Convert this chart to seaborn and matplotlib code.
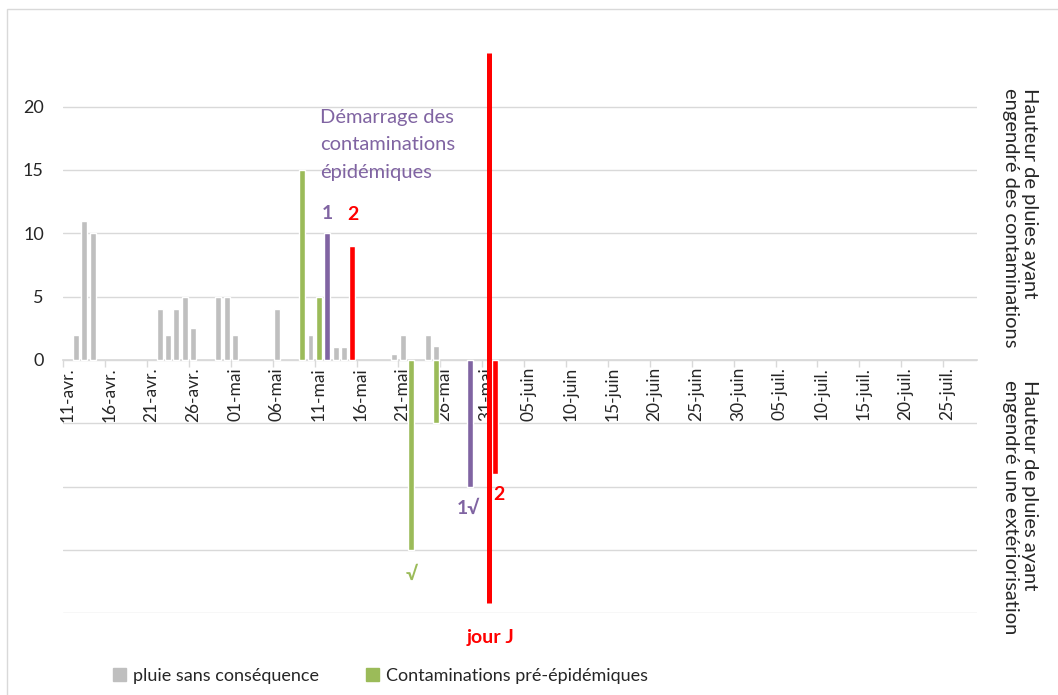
import matplotlib
matplotlib.use("Agg")
import matplotlib.pyplot as plt
import matplotlib.patches as mpatches
import seaborn as sns
import pandas as pd

# Donnees (hauteur de pluie en mm, dates sur l'annee)
debut = "2021-04-11"
fin = "2021-07-28"

pluie_dates = ["2021-04-12", "2021-04-13", "2021-04-14", "2021-04-22", "2021-04-23",
               "2021-04-24", "2021-04-25", "2021-04-26", "2021-04-29", "2021-04-30",
               "2021-05-01", "2021-05-06", "2021-05-10", "2021-05-13", "2021-05-14",
               "2021-05-20", "2021-05-21", "2021-05-24", "2021-05-25"]
pluie_valeurs = [2, 11, 10, 4, 2, 4, 5, 2.5, 5, 5, 2, 4, 2, 1, 1, 0.5, 2, 2, 1.1]

pre_epi_dates = ["2021-05-09", "2021-05-11", "2021-05-22", "2021-05-25"]
pre_epi_valeurs = [15, 5, -15, -5]

epi1_dates = ["2021-05-12", "2021-05-29"]
epi1_valeurs = [10, -10]

epi2_dates = ["2021-05-15", "2021-06-01"]
epi2_valeurs = [9, -9]

jour_j = "2021-05-31"
jour_j_bas = -19.2
jour_j_haut = 24.2

mois_fr = {4: "avr.", 5: "mai", 6: "juin", 7: "juil."}

gris = "#BFBFBF"
vert = "#9BBB59"
violet = "#8064A2"
rouge = "#FF0000"

# Table pour seaborn
t0 = pd.Timestamp(debut)
lignes = []
for serie, dates, valeurs in [("pluie", pluie_dates, pluie_valeurs),
                              ("pre", pre_epi_dates, pre_epi_valeurs),
                              ("epi1", epi1_dates, epi1_valeurs),
                              ("epi2", epi2_dates, epi2_valeurs)]:
    for d, v in zip(dates, valeurs):
        lignes.append({"jour": (pd.Timestamp(d) - t0).days, "valeur": v, "serie": serie})
df = pd.DataFrame(lignes)

sns.set_theme(style="white")
plt.rcParams["font.family"] = ["Lato", "DejaVu Sans"]

W, H = 1058, 695
fig = plt.figure(figsize=(W / 100, H / 100), dpi=100)
ax = fig.add_axes([63.3 / W, 1 - 613.3 / H, (976.7 - 63.3) / W, (613.3 - 43.3) / H])

sns.barplot(data=df, x="jour", y="valeur", hue="serie",
            palette={"pluie": gris, "pre": vert, "epi1": violet, "epi2": rouge},
            dodge=False, native_scale=True, width=0.7, errorbar=None,
            legend=False, ax=ax, saturation=1)

# jour J
xj = (pd.Timestamp(jour_j) - t0).days + 0.25
ax.vlines(xj, jour_j_bas, jour_j_haut, color=rouge, lw=3.6)

nb_jours = (pd.Timestamp(fin) - t0).days
ax.set_xlim(-0.5, nb_jours + 0.5)
ax.set_ylim(-20, 25)

# axe des y : grille de -20 a 20, etiquettes seulement positives
yt = list(range(-20, 21, 5))
ax.set_yticks(yt)
ax.set_yticklabels([str(v) if v >= 0 else "" for v in yt], fontsize=13, color="#262626")
ax.tick_params(axis="y", length=0, pad=14)
ax.grid(axis="y", color="#D9D9D9", lw=1)
ax.set_axisbelow(True)

# axe des x : etiquettes toutes les 5 journees
dates_all = pd.date_range(debut, fin)
pos = list(range(0, nb_jours + 1, 5))
ax.set_xticks(pos)
ax.set_xticklabels([f"{dates_all[p].day:02d}-{mois_fr[dates_all[p].month]}" for p in pos])
ax.set_xticks([p - 0.5 for p in pos], minor=True)
ax.tick_params(axis="x", which="major", length=0, pad=5, labelrotation=90,
               labelsize=12.5, labelcolor="#262626")
ax.tick_params(axis="x", which="minor", length=5, color="#D9D9D9", width=1, direction="out")
ax.xaxis.set_ticks_position("bottom")
ax.set_xlabel("")
ax.set_ylabel("")

for s in ["top", "left", "right"]:
    ax.spines[s].set_visible(False)
ax.spines["bottom"].set_position(("data", 0))
ax.spines["bottom"].set_color("#D9D9D9")
ax.spines["bottom"].set_zorder(0.5)

# annotations
ax.text(30.15, 19.85, "Démarrage des\ncontaminations\népidémiques", color=violet,
        fontsize=14.5, ha="left", va="top", linespacing=1.75)
ax.text(31, 11.6, "1", color=violet, fontsize=14, fontweight="bold", ha="center", va="center")
ax.text(34, 11.5, "2", color=rouge, fontsize=14, fontweight="bold", ha="center", va="center")
ax.text(47.8, -11.7, "1√", color=violet, fontsize=14, fontweight="bold", ha="center", va="center")
ax.text(51.5, -10.6, "2", color=rouge, fontsize=14, fontweight="bold", ha="center", va="center")
ax.text(41.1, -16.9, "√", color=vert, fontsize=14, fontweight="bold", ha="center", va="center")
ax.text(50.5, -21.9, "jour J", color=rouge, fontsize=14, fontweight="bold",
        ha="center", va="center", clip_on=False)

# titres a droite
fig.text(1020 / W, 1 - 88 / H, "Hauteur de pluies ayant\nengendré des contaminations",
         rotation=270, ha="center", va="top", multialignment="left", fontsize=14.5,
         linespacing=1.1, color="#262626")
fig.text(1020 / W, 1 - 380 / H, "Hauteur de pluies ayant\nengendré une extériorisation",
         rotation=270, ha="center", va="top", multialignment="left", fontsize=14.5,
         linespacing=1.1, color="#262626")

# legende
poignees = [mpatches.Patch(color=gris, label="pluie sans conséquence"),
            mpatches.Patch(color=vert, label="Contaminations pré-épidémiques")]
fig.legend(handles=poignees, loc="center left", bbox_to_anchor=(97 / W, 1 - 676 / H),
           ncol=2, frameon=False, fontsize=13, handlelength=0.7, handleheight=0.7,
           handletextpad=0.4, columnspacing=2.6)

# cadre du graphique
fig.patches.append(mpatches.Rectangle((7 / W, -0.02), 1.1, 1 - 9 / H + 0.02,
                                      transform=fig.transFigure, fill=False,
                                      edgecolor="#D9D9D9", lw=1))

fig.savefig("out.png", dpi=100)
